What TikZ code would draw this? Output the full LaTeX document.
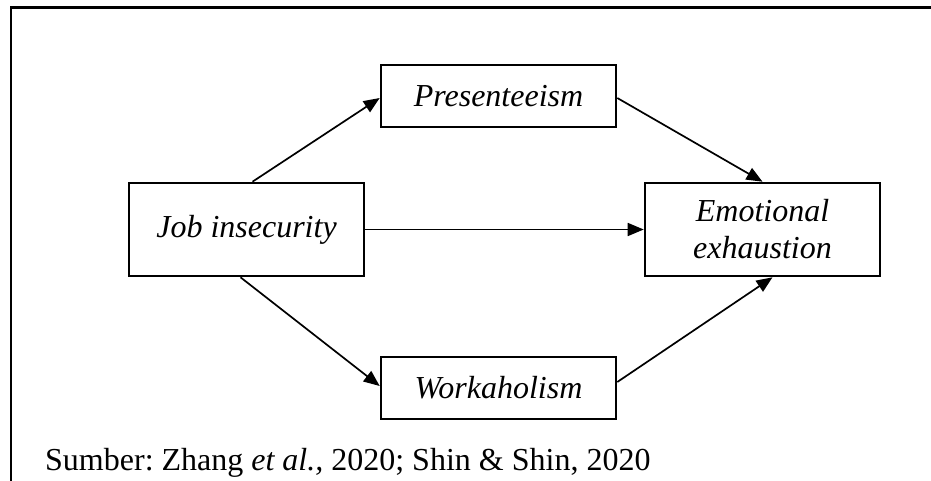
\documentclass[tikz,border=0pt]{standalone}
\usepackage{fontspec}
\setmainfont{Liberation Serif}
\usetikzlibrary{arrows.meta}
\frenchspacing
\begin{document}
\begin{tikzpicture}[x=1pt,y=-1pt,
  box/.style={draw, line width=2.6pt, minimum width=235pt, inner sep=0pt,
    font=\fontsize{32}{37}\selectfont\itshape, align=center},
  smallbox/.style={box, minimum height=62pt},
  bigbox/.style={box, minimum height=93pt},
  conn/.style={line width=1.7pt, -{Triangle[length=16pt,width=13pt]}},
  frame/.style={line width=2.2pt}]
\useasboundingbox (0,0) rectangle (931,481);
\draw[frame] (931,7.5) -- (11,7.5) -- (11,481);
\node[smallbox] (P) at (498.5,96) {Presenteeism};
\node[bigbox] (JI) at (246.5,229.5) {Job insecurity};
\node[bigbox] (EE) at (762.5,229.5) {Emotional\\exhaustion};
\node[smallbox] (W) at (498.5,388) {Workaholism};
\draw[conn] ([xshift=6pt]JI.north) -- ([yshift=-2pt]P.west);
\draw[conn] ([yshift=-2pt]P.east) -- (EE.north);
\draw[conn] (JI.east) -- (EE.west);
\draw[conn] ([xshift=-6pt]JI.south) -- ([yshift=2pt]W.west);
\draw[conn] ([yshift=6pt]W.east) -- ([xshift=10pt]EE.south);
\node[anchor=base west, inner sep=0pt, font=\fontsize{32}{37}\selectfont] (cap) at (45,470)
  {Sumber: Zhang \textit{et al.,} 2020; Shin \& Shin, 2020};
\end{tikzpicture}
\end{document}
